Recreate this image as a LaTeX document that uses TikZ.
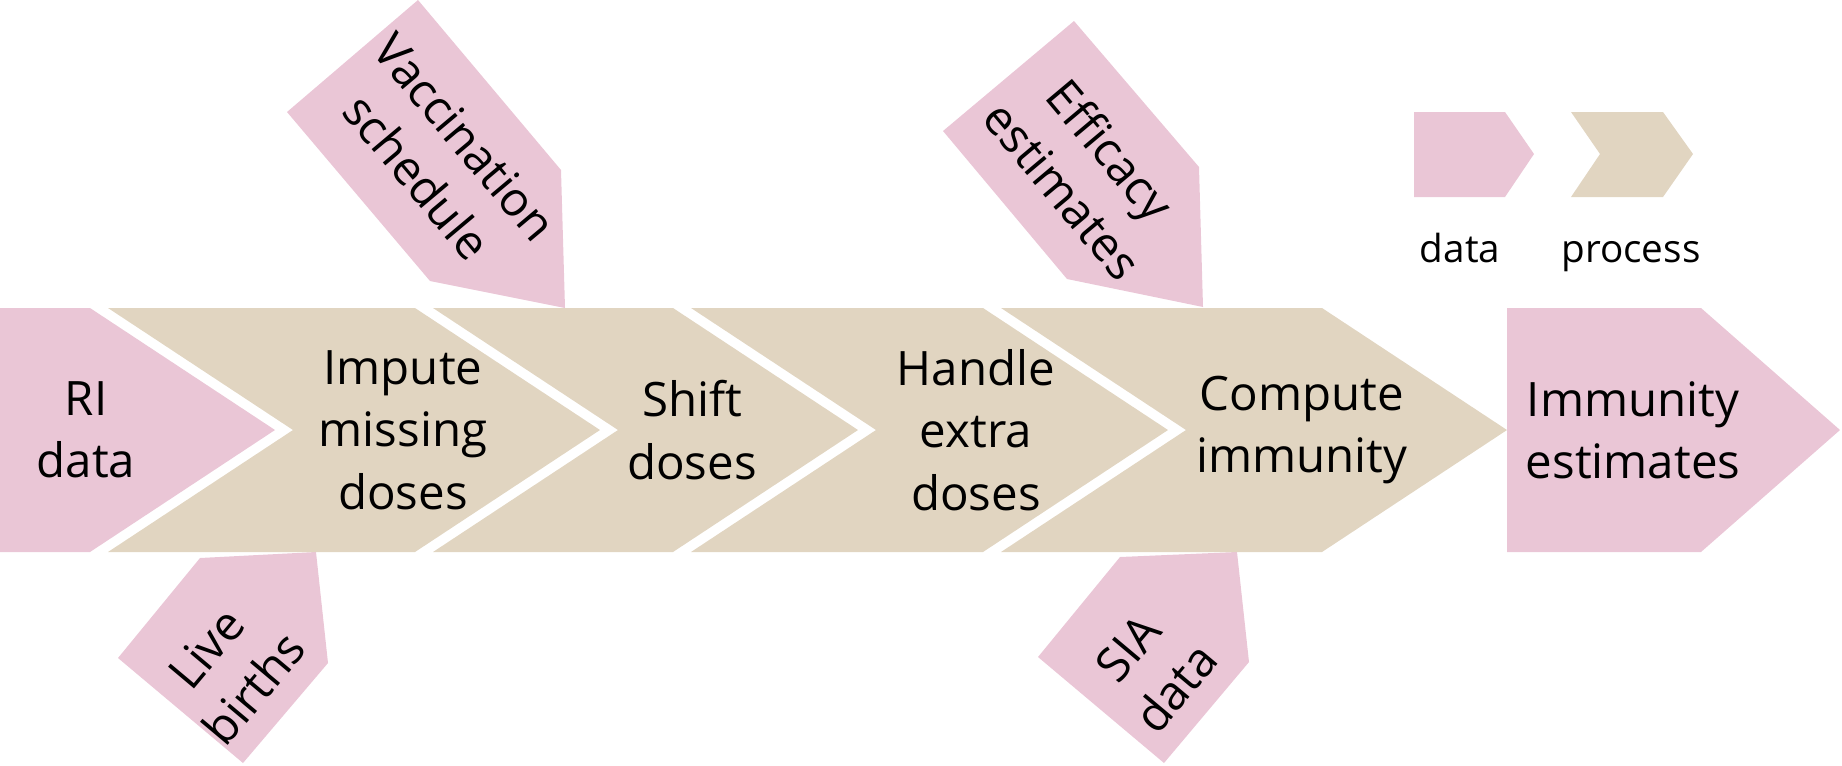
\documentclass[tikz,border=0pt]{standalone}
\usepackage{fontspec}
\setmainfont{Open Sans}
\definecolor{datapink}{HTML}{EAC6D6}
\definecolor{procbeige}{HTML}{E1D5C1}
\tikzstyle{d}=[fill=datapink]
\tikzstyle{p}=[fill=procbeige]
\tikzstyle{lbl}=[align=center, inner sep=0pt, font=\fontsize{27}{35.5}\selectfont]
\tikzstyle{key}=[anchor=base, inner sep=0pt, font=\fontsize{22}{26}\selectfont]

\begin{document}
\begin{tikzpicture}[x=0.02cm, y=-0.02cm]
	\useasboundingbox (0,0) rectangle (1842,765);

	% side inputs
	\fill[d] (418,0) -- (561,170) -- (565,308) -- (430,281) -- (287,112) -- cycle;
	\fill[d] (1074,21) -- (1199,167) -- (1203,307) -- (1067,279) -- (943,131) -- cycle;
	\fill[d] (316,552) -- (328,663) -- (243,763) -- (118,658) -- (200,558) -- cycle;
	\fill[d] (1237,552) -- (1249,662) -- (1164,763) -- (1038,657) -- (1120,557) -- cycle;

	% main band
	\fill[d] (0,308) -- (90,308) -- (275,430) -- (90,552) -- (0,552) -- cycle;
	\fill[p] (108,308) -- (415,308) -- (600,430) -- (415,552) -- (108,552) -- (293,430) -- cycle;
	\fill[p] (433,308) -- (673,308) -- (858,430) -- (673,552) -- (433,552) -- (618,430) -- cycle;
	\fill[p] (691,308) -- (983,308) -- (1168,430) -- (983,552) -- (691,552) -- (876,430) -- cycle;
	\fill[p] (1001,308) -- (1322,308) -- (1507,430) -- (1322,552) -- (1001,552) -- (1186,430) -- cycle;
	\fill[d] (1507,308) -- (1701,308) -- (1840,430) -- (1701,552) -- (1507,552) -- cycle;

	% key
	\fill[d] (1414,112) -- (1505,112) -- (1534,154) -- (1505,197) -- (1414,197) -- cycle;
	\fill[p] (1571,112) -- (1663,112) -- (1693,154) -- (1663,197) -- (1571,197) -- (1600,154) -- cycle;

	\node[lbl] (ri) at (86,430) {RI\\data};
	\node[lbl] (impute) at (403,430) {Impute\\missing\\doses};
	\node[lbl] (shift) at (692,430) {Shift\\doses};
	\node[lbl] (handle) at (976,430) {Handle\\extra\\doses};
	\node[lbl] (compute) at (1302,430) {Compute\\immunity};
	\node[lbl] (immun) at (1633,430) {Immunity\\estimates};

	\node[lbl, rotate=-50] (vacc) at (441,157) {Vaccination\\schedule};
	\node[lbl, rotate=-50] (effic) at (1087,170) {Efficacy\\estimates};
	\node[lbl, rotate=50] (births) at (230,668) {Live\\births};
	\node[lbl, rotate=50] (sia) at (1152,668) {SIA\\data};

	\node[key] (kdata) at (1460,262) {data};
	\node[key] (kproc) at (1631,262) {process};
\end{tikzpicture}
\end{document}
